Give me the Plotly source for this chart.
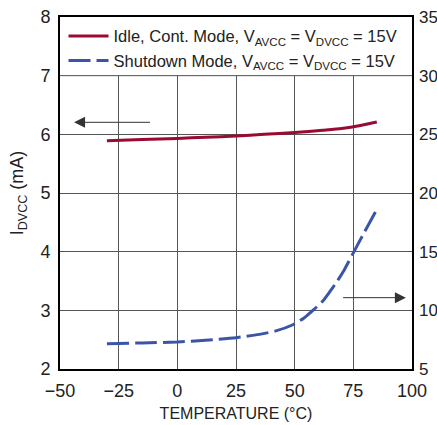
import plotly.graph_objects as go

# Data
temp_idle = [-30, -15, 0, 12, 25, 37, 50, 62, 70, 78, 85]
idle_ma = [5.89, 5.91, 5.93, 5.95, 5.97, 6.00, 6.03, 6.07, 6.10, 6.15, 6.21]

temp_shdn = [-30, -15, 0, 12, 25, 35, 42, 49, 54, 58, 62, 65, 68, 71, 75, 79, 85]
shdn_ua = [7.16, 7.22, 7.30, 7.45, 7.67, 7.95, 8.25, 8.75, 9.35, 10.03, 10.8, 11.6, 12.45, 13.4, 14.9, 16.4, 18.6]

x_ticks = [-50, -25, 0, 25, 50, 75, 100]
y_ticks = [2, 3, 4, 5, 6, 7, 8]
y2_ticks = [5, 10, 15, 20, 25, 30, 35]

FONT = "Liberation Sans, Arial, sans-serif"
TXT = "#222222"
GRID = "#555555"

fig = go.Figure()
fig.add_trace(go.Scatter(
    x=temp_idle, y=idle_ma, mode="lines",
    line=dict(color="#9a0a32", width=3, shape="spline", smoothing=0.6),
    name="Idle, Cont. Mode, V<sub>AVCC</sub> = V<sub>DVCC</sub> = 15V", yaxis="y"))
fig.add_trace(go.Scatter(
    x=temp_shdn, y=shdn_ua, mode="lines",
    line=dict(color="#3a55a8", width=3, dash="22px,6px", shape="spline", smoothing=0.6),
    name="Shutdown Mode, V<sub>AVCC</sub> = V<sub>DVCC</sub> = 15V", yaxis="y2"))

# white legend band
fig.add_shape(type="rect", xref="paper", yref="y", x0=0, x1=1, y0=7, y1=8,
              fillcolor="white", line=dict(width=0), layer="above")
fig.add_shape(type="line", xref="paper", yref="y", x0=0, x1=1, y0=7, y1=7,
              line=dict(color=GRID, width=1), layer="above")

# arrows
fig.add_annotation(x=-44, y=6.205, ax=-11, ay=6.205, xref="x", yref="y", axref="x", ayref="y",
                   text="", showarrow=True, arrowhead=2, arrowsize=2.2, arrowwidth=1, arrowcolor="#333333")
fig.add_annotation(x=97.4, y=11.08, ax=70, ay=11.08, xref="x", yref="y2", axref="x", ayref="y2",
                   text="", showarrow=True, arrowhead=2, arrowsize=2.2, arrowwidth=1, arrowcolor="#333333")

fig.update_layout(
    width=437, height=425,
    margin=dict(l=60, r=25, t=17, b=56),
    paper_bgcolor="white", plot_bgcolor="white",
    font=dict(family=FONT, size=17, color=TXT),
    showlegend=True,
    legend=dict(x=0.01, y=0.995, xanchor="left", yanchor="top", bgcolor="rgba(0,0,0,0)",
                font=dict(family=FONT, size=16.5, color=TXT), tracegroupgap=0,
                itemwidth=40),
    xaxis=dict(range=[-50, 100], tickvals=x_ticks,
               ticktext=[("\u2212" + str(-v)) if v < 0 else str(v) for v in x_ticks],
               showgrid=True, gridcolor=GRID, gridwidth=1, zeroline=False,
               showline=True, linecolor="black", linewidth=2, mirror=True,
               ticks="", tickfont=dict(size=18), ticklabelstandoff=4, automargin=False,
               title=dict(text="TEMPERATURE (\u00b0C)", font=dict(size=16), standoff=8)),
    yaxis=dict(range=[2, 8], tickvals=y_ticks, showgrid=True, gridcolor=GRID, gridwidth=1,
               zeroline=False, showline=True, linecolor="black", linewidth=2, mirror=True,
               ticks="", tickfont=dict(size=18), ticklabelstandoff=4, automargin=False,
               title=dict(text="I<sub>DVCC</sub> (mA)", font=dict(size=18), standoff=12)),
    yaxis2=dict(range=[5, 35], tickvals=y2_ticks, overlaying="y", side="right",
                showgrid=False, zeroline=False, showline=False, ticks="",
                tickfont=dict(size=17), ticklabelstandoff=6, automargin=False),
)

fig.write_html("out.html")
